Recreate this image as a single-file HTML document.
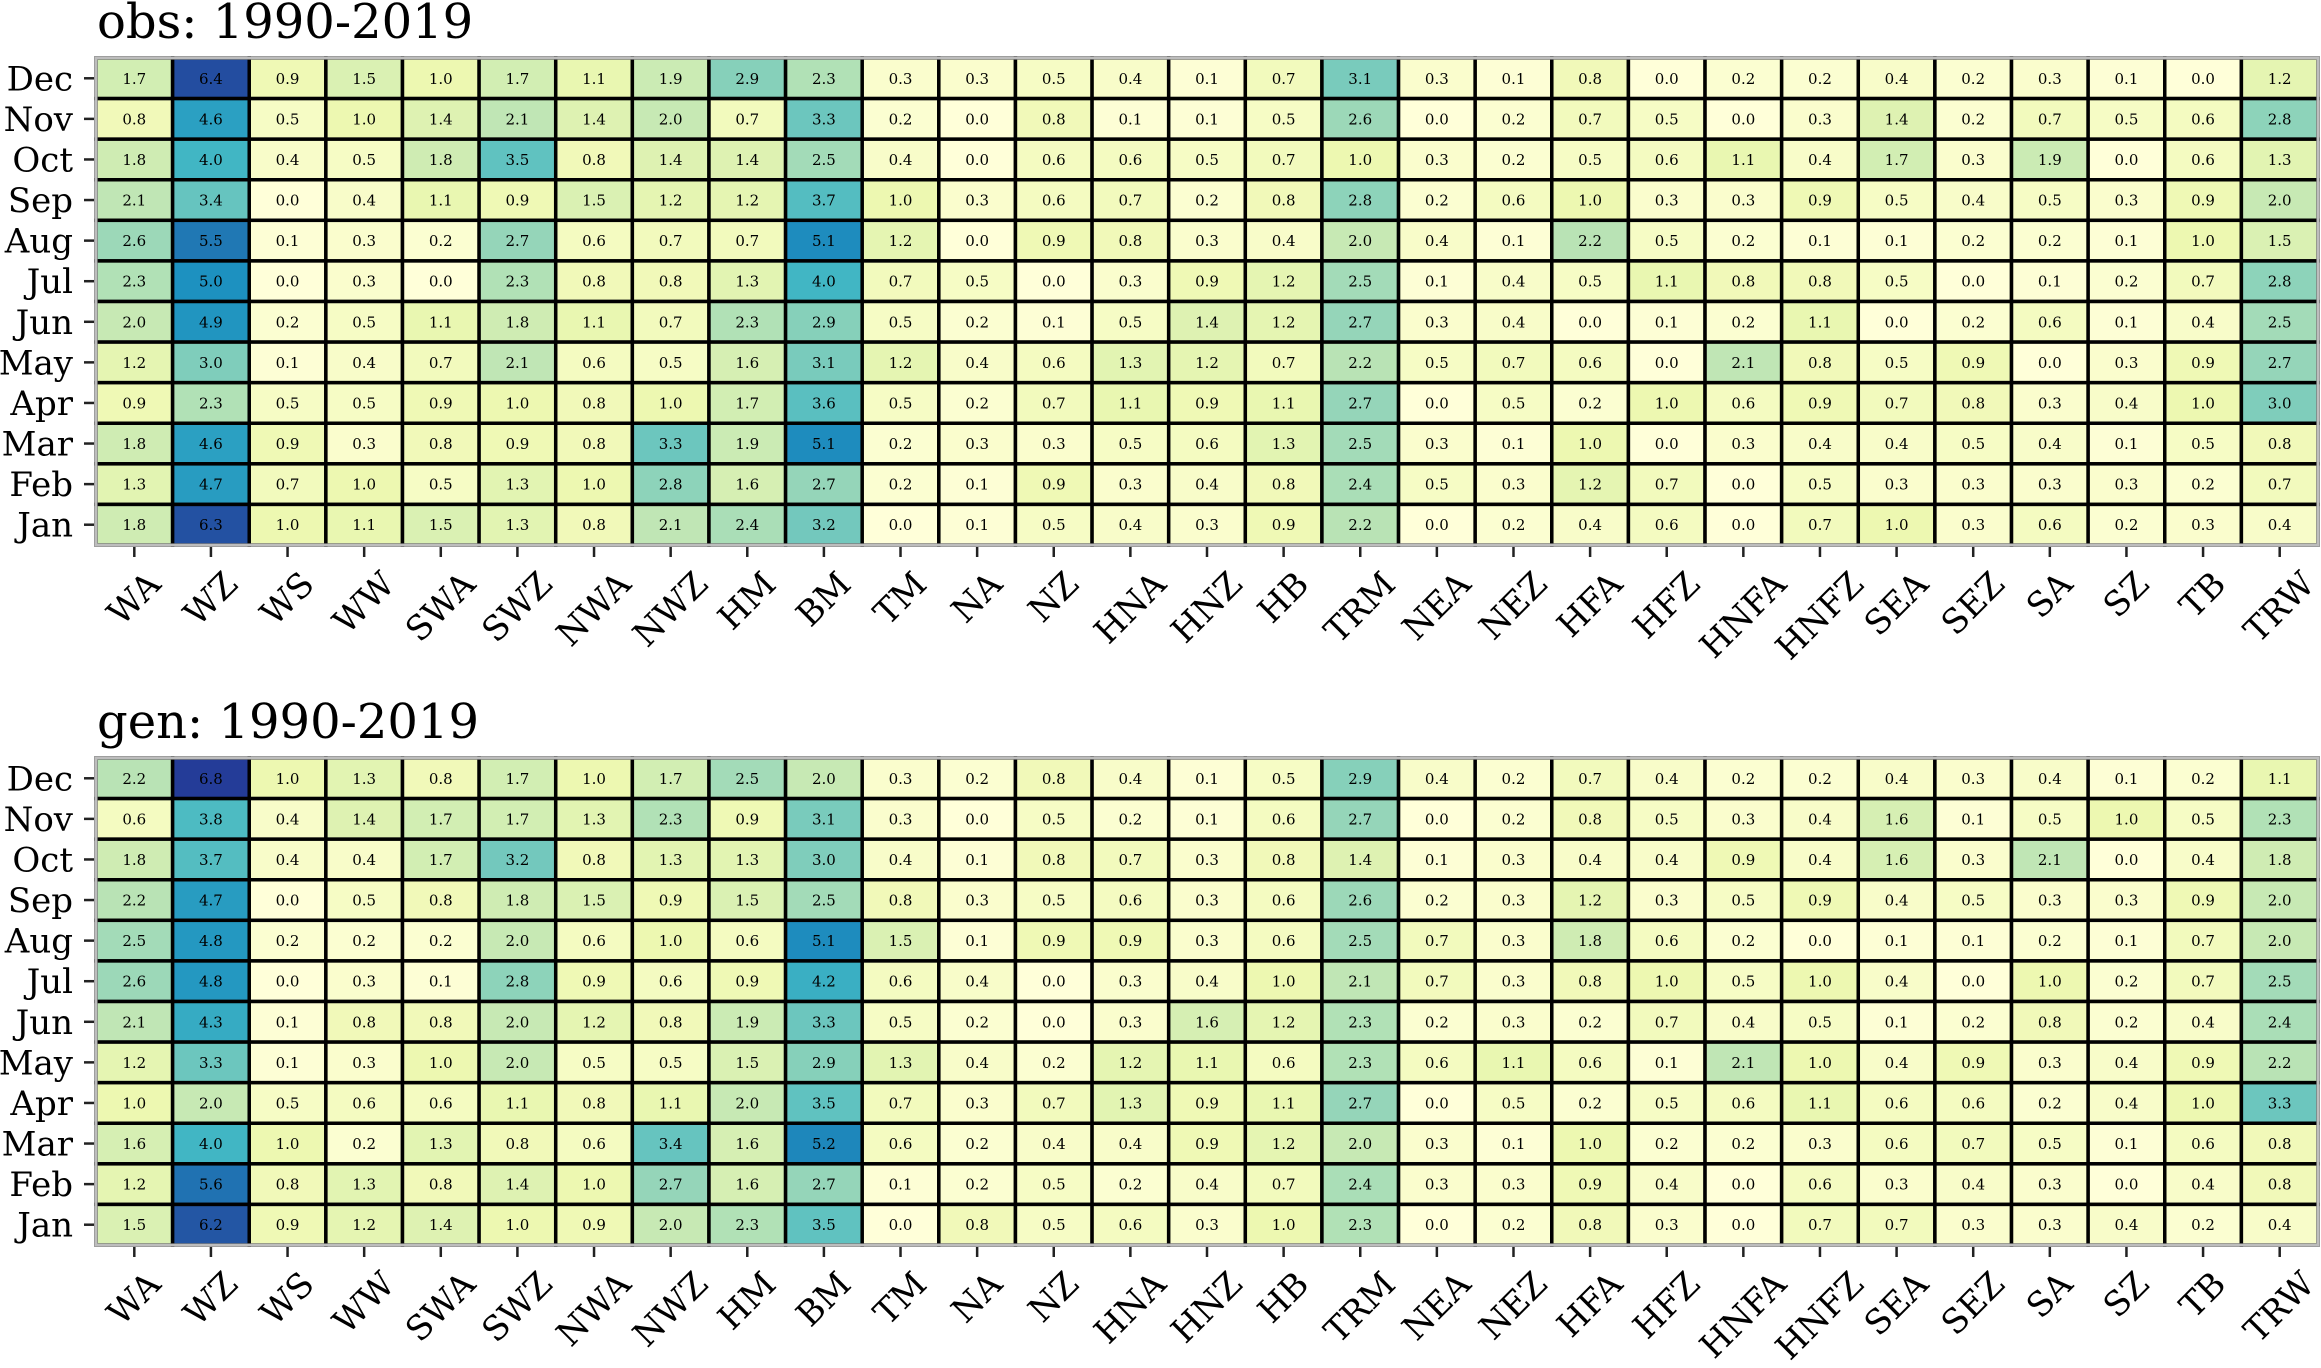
<!DOCTYPE html>
<html><head><meta charset="utf-8">
<style>
html,body{margin:0;padding:0;background:#fff;}
svg{display:block;}
text{font-family:"DejaVu Serif","Liberation Serif",serif;fill:#000;}
</style></head>
<body>
<svg id="s" width="2321" height="1368" xmlns="http://www.w3.org/2000/svg"></svg>
<script>
const cols="WA WZ WS WW SWA SWZ NWA NWZ HM BM TM NA NZ HNA HNZ HB TRM NEA NEZ HFA HFZ HNFA HNFZ SEA SEZ SA SZ TB TRW".split(" ");
const months=["Dec","Nov","Oct","Sep","Aug","Jul","Jun","May","Apr","Mar","Feb","Jan"];
const obs=`1.7 6.4 0.9 1.5 1.0 1.7 1.1 1.9 2.9 2.3 0.3 0.3 0.5 0.4 0.1 0.7 3.1 0.3 0.1 0.8 0.0 0.2 0.2 0.4 0.2 0.3 0.1 0.0 1.2
0.8 4.6 0.5 1.0 1.4 2.1 1.4 2.0 0.7 3.3 0.2 0.0 0.8 0.1 0.1 0.5 2.6 0.0 0.2 0.7 0.5 0.0 0.3 1.4 0.2 0.7 0.5 0.6 2.8
1.8 4.0 0.4 0.5 1.8 3.5 0.8 1.4 1.4 2.5 0.4 0.0 0.6 0.6 0.5 0.7 1.0 0.3 0.2 0.5 0.6 1.1 0.4 1.7 0.3 1.9 0.0 0.6 1.3
2.1 3.4 0.0 0.4 1.1 0.9 1.5 1.2 1.2 3.7 1.0 0.3 0.6 0.7 0.2 0.8 2.8 0.2 0.6 1.0 0.3 0.3 0.9 0.5 0.4 0.5 0.3 0.9 2.0
2.6 5.5 0.1 0.3 0.2 2.7 0.6 0.7 0.7 5.1 1.2 0.0 0.9 0.8 0.3 0.4 2.0 0.4 0.1 2.2 0.5 0.2 0.1 0.1 0.2 0.2 0.1 1.0 1.5
2.3 5.0 0.0 0.3 0.0 2.3 0.8 0.8 1.3 4.0 0.7 0.5 0.0 0.3 0.9 1.2 2.5 0.1 0.4 0.5 1.1 0.8 0.8 0.5 0.0 0.1 0.2 0.7 2.8
2.0 4.9 0.2 0.5 1.1 1.8 1.1 0.7 2.3 2.9 0.5 0.2 0.1 0.5 1.4 1.2 2.7 0.3 0.4 0.0 0.1 0.2 1.1 0.0 0.2 0.6 0.1 0.4 2.5
1.2 3.0 0.1 0.4 0.7 2.1 0.6 0.5 1.6 3.1 1.2 0.4 0.6 1.3 1.2 0.7 2.2 0.5 0.7 0.6 0.0 2.1 0.8 0.5 0.9 0.0 0.3 0.9 2.7
0.9 2.3 0.5 0.5 0.9 1.0 0.8 1.0 1.7 3.6 0.5 0.2 0.7 1.1 0.9 1.1 2.7 0.0 0.5 0.2 1.0 0.6 0.9 0.7 0.8 0.3 0.4 1.0 3.0
1.8 4.6 0.9 0.3 0.8 0.9 0.8 3.3 1.9 5.1 0.2 0.3 0.3 0.5 0.6 1.3 2.5 0.3 0.1 1.0 0.0 0.3 0.4 0.4 0.5 0.4 0.1 0.5 0.8
1.3 4.7 0.7 1.0 0.5 1.3 1.0 2.8 1.6 2.7 0.2 0.1 0.9 0.3 0.4 0.8 2.4 0.5 0.3 1.2 0.7 0.0 0.5 0.3 0.3 0.3 0.3 0.2 0.7
1.8 6.3 1.0 1.1 1.5 1.3 0.8 2.1 2.4 3.2 0.0 0.1 0.5 0.4 0.3 0.9 2.2 0.0 0.2 0.4 0.6 0.0 0.7 1.0 0.3 0.6 0.2 0.3 0.4`;
const gen=`2.2 6.8 1.0 1.3 0.8 1.7 1.0 1.7 2.5 2.0 0.3 0.2 0.8 0.4 0.1 0.5 2.9 0.4 0.2 0.7 0.4 0.2 0.2 0.4 0.3 0.4 0.1 0.2 1.1
0.6 3.8 0.4 1.4 1.7 1.7 1.3 2.3 0.9 3.1 0.3 0.0 0.5 0.2 0.1 0.6 2.7 0.0 0.2 0.8 0.5 0.3 0.4 1.6 0.1 0.5 1.0 0.5 2.3
1.8 3.7 0.4 0.4 1.7 3.2 0.8 1.3 1.3 3.0 0.4 0.1 0.8 0.7 0.3 0.8 1.4 0.1 0.3 0.4 0.4 0.9 0.4 1.6 0.3 2.1 0.0 0.4 1.8
2.2 4.7 0.0 0.5 0.8 1.8 1.5 0.9 1.5 2.5 0.8 0.3 0.5 0.6 0.3 0.6 2.6 0.2 0.3 1.2 0.3 0.5 0.9 0.4 0.5 0.3 0.3 0.9 2.0
2.5 4.8 0.2 0.2 0.2 2.0 0.6 1.0 0.6 5.1 1.5 0.1 0.9 0.9 0.3 0.6 2.5 0.7 0.3 1.8 0.6 0.2 0.0 0.1 0.1 0.2 0.1 0.7 2.0
2.6 4.8 0.0 0.3 0.1 2.8 0.9 0.6 0.9 4.2 0.6 0.4 0.0 0.3 0.4 1.0 2.1 0.7 0.3 0.8 1.0 0.5 1.0 0.4 0.0 1.0 0.2 0.7 2.5
2.1 4.3 0.1 0.8 0.8 2.0 1.2 0.8 1.9 3.3 0.5 0.2 0.0 0.3 1.6 1.2 2.3 0.2 0.3 0.2 0.7 0.4 0.5 0.1 0.2 0.8 0.2 0.4 2.4
1.2 3.3 0.1 0.3 1.0 2.0 0.5 0.5 1.5 2.9 1.3 0.4 0.2 1.2 1.1 0.6 2.3 0.6 1.1 0.6 0.1 2.1 1.0 0.4 0.9 0.3 0.4 0.9 2.2
1.0 2.0 0.5 0.6 0.6 1.1 0.8 1.1 2.0 3.5 0.7 0.3 0.7 1.3 0.9 1.1 2.7 0.0 0.5 0.2 0.5 0.6 1.1 0.6 0.6 0.2 0.4 1.0 3.3
1.6 4.0 1.0 0.2 1.3 0.8 0.6 3.4 1.6 5.2 0.6 0.2 0.4 0.4 0.9 1.2 2.0 0.3 0.1 1.0 0.2 0.2 0.3 0.6 0.7 0.5 0.1 0.6 0.8
1.2 5.6 0.8 1.3 0.8 1.4 1.0 2.7 1.6 2.7 0.1 0.2 0.5 0.2 0.4 0.7 2.4 0.3 0.3 0.9 0.4 0.0 0.6 0.3 0.4 0.3 0.0 0.4 0.8
1.5 6.2 0.9 1.2 1.4 1.0 0.9 2.0 2.3 3.5 0.0 0.8 0.5 0.6 0.3 1.0 2.3 0.0 0.2 0.8 0.3 0.0 0.7 0.7 0.3 0.3 0.4 0.2 0.4`;
const stops=["#ffffd9","#edf8b1","#c7e9b4","#7fcdbb","#41b6c4","#1d91c0","#225ea8","#253494","#081d58"];
function hx(c){return [1,3,5].map(i=>parseInt(c.substr(i,2),16));}
function cmap(v){let t=Math.max(0,Math.min(1,v/8))*8;let i=Math.min(7,Math.floor(t));let f=t-i;
 let a=hx(stops[i]),b=hx(stops[i+1]);return "rgb("+a.map((x,k)=>Math.round(x+(b[k]-x)*f)).join(",")+")";}
const NS="http://www.w3.org/2000/svg";const svg=document.getElementById("s");
function el(n,a,txt){const e=document.createElementNS(NS,n);for(const k in a)e.setAttribute(k,a[k]);if(txt!==undefined)e.textContent=txt;svg.appendChild(e);return e;}
const L=96,R=2318,cw=(R-L)/29;
function panel(title,data,top){
 const bot=top+487,rh=(bot-top)/12;
 el("text",{x:97,y:top-20,"font-size":48},title);
 const rows=data.trim().split("\n").map(r=>r.trim().split(/\s+/));
 for(let r=0;r<12;r++)for(let c=0;c<29;c++){
  const v=rows[r][c];
  el("rect",{x:L+c*cw,y:top+r*rh,width:cw,height:rh,fill:cmap(parseFloat(v)),stroke:"#000","stroke-width":3.5});
  el("text",{x:L+c*cw+cw/2,y:top+r*rh+rh/2+5.5,"font-size":15,"text-anchor":"middle"},v);
 }
 el("rect",{x:L,y:top,width:R-L,height:bot-top,fill:"none",stroke:"#bdbdbd","stroke-width":3});
 for(let r=0;r<12;r++){const y=top+r*rh+rh/2;
  el("line",{x1:84,x2:94,y1:y,y2:y,stroke:"#222","stroke-width":2.5});
  el("text",{x:73,y:y+12,"font-size":34,"text-anchor":"end"},months[r]);}
 for(let c=0;c<29;c++){const x=L+c*cw+cw/2;
  el("line",{x1:x,x2:x,y1:bot+2,y2:bot+12,stroke:"#222","stroke-width":2.5});
  const t=el("text",{x:0,y:0,"font-size":34,"text-anchor":"middle","dominant-baseline":"central"},cols[c]);
  const w=t.getComputedTextLength();const H=38;
  const cy=bot+20+(w+H)/2.828;
  t.setAttribute("transform","translate("+x+","+cy+") rotate(-45)");}
}
panel("obs: 1990-2019",obs,58);
panel("gen: 1990-2019",gen,758);
</script>
</body></html>
